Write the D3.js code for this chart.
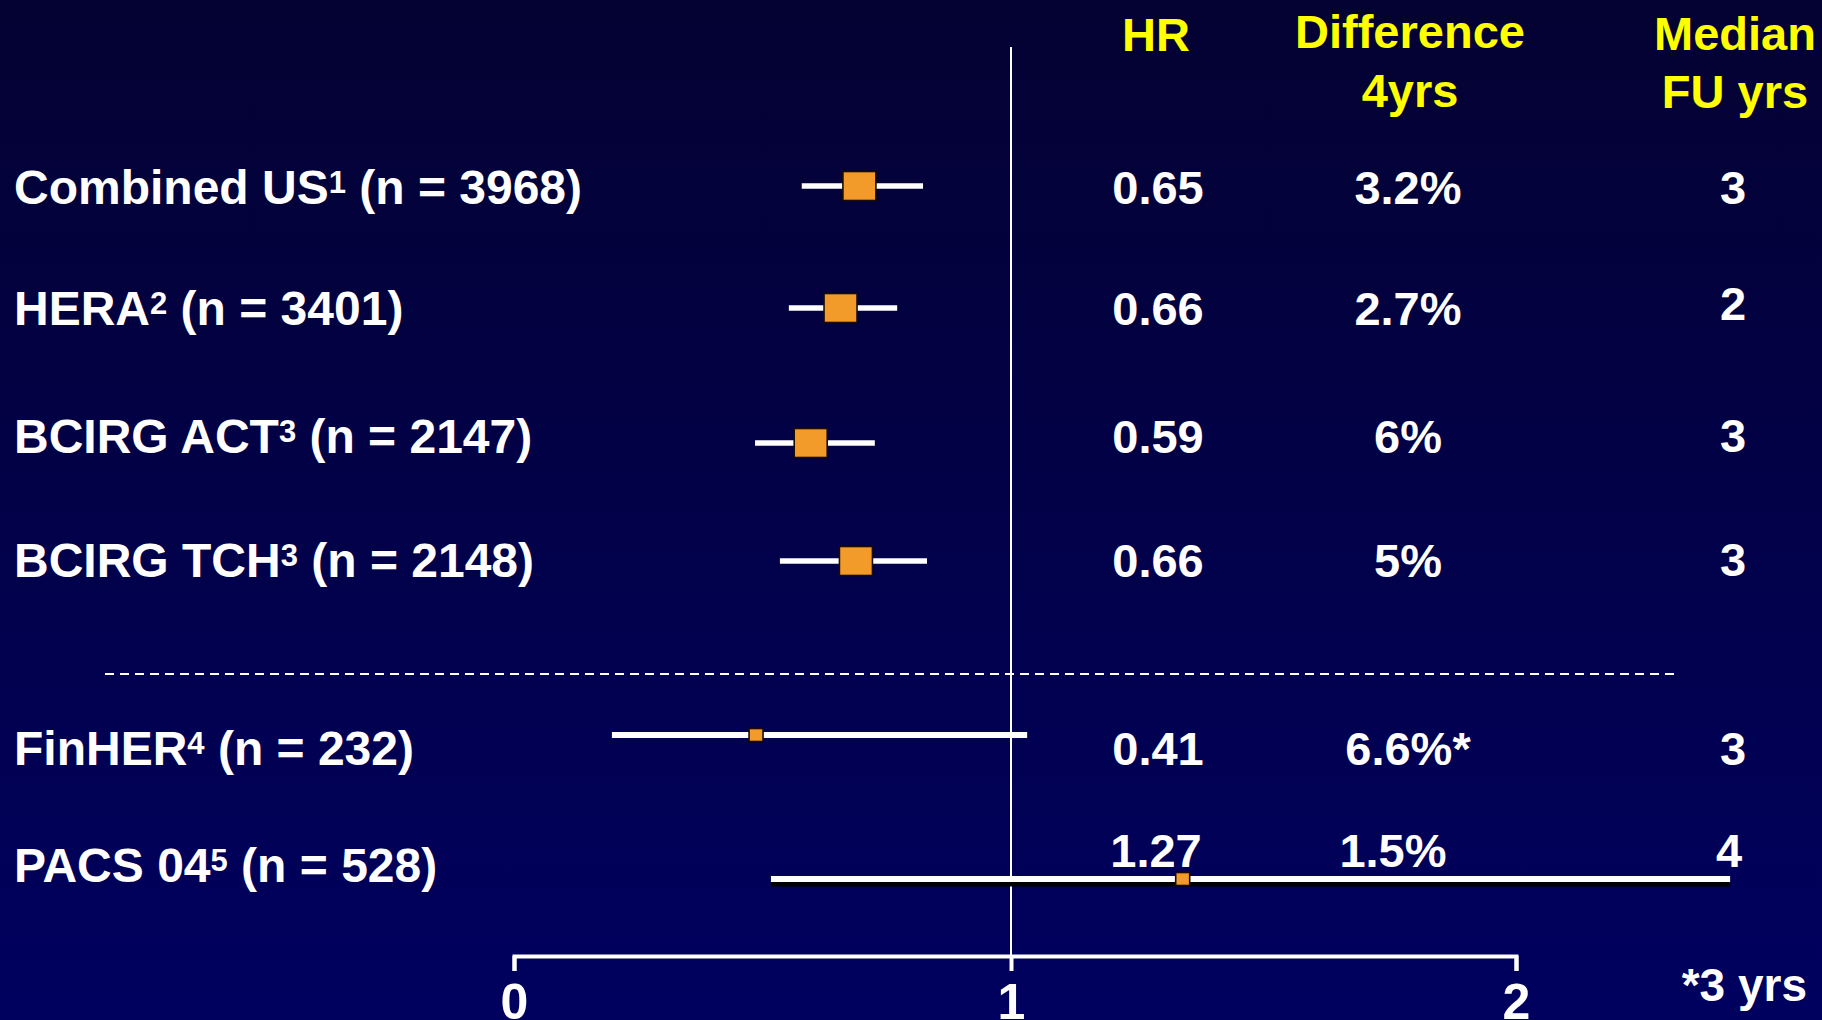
<!DOCTYPE html>
<html>
<head>
<meta charset="utf-8">
<script src="https://cdn.jsdelivr.net/npm/d3@7"></script>
<style>
  html, body { margin: 0; padding: 0; background: #000040; overflow: hidden; }
  svg { display: block; }
  text { font-family: "Liberation Sans", Arial, Helvetica, sans-serif; font-weight: bold; }
</style>
</head>
<body>
<svg id="chart" width="1822" height="1020"></svg>
<script>
// ---------- data ----------
const studies   = ["Combined US", "HERA", "BCIRG ACT", "BCIRG TCH", "FinHER", "PACS 04"];
const refs      = ["1", "2", "3", "3", "4", "5"];
const nPatients = [3968, 3401, 2147, 2148, 232, 528];
const hrEst     = [0.695, 0.657, 0.597, 0.688, 0.487, 1.340];   // plotted point estimates
const hrLow     = [0.579, 0.553, 0.485, 0.535, 0.197, 0.517];   // plotted CI lower bounds
const hrHigh    = [0.823, 0.771, 0.726, 0.831, 1.032, 2.424];   // plotted CI upper bounds
const hrLabels  = ["0.65", "0.66", "0.59", "0.66", "0.41", "1.27"];
const diffLabels= ["3.2%", "2.7%", "6%", "5%", "6.6%*", "1.5%"];
const fuLabels  = ["3", "2", "3", "3", "3", "4"];
const xTicks    = [0, 1, 2];
const headers   = { hr: ["HR"], diff: ["Difference", "4yrs"], fu: ["Median", "FU yrs"] };
const footnote  = "*3 yrs";

// ---------- layout ----------
const W = 1822, H = 1020;
const svg = d3.select("#chart");

const defs = svg.append("defs");
const grad = defs.append("linearGradient").attr("id", "bg").attr("x1", 0).attr("y1", 0).attr("x2", 0).attr("y2", 1);
grad.append("stop").attr("offset", "0%").attr("stop-color", "#040232");
grad.append("stop").attr("offset", "100%").attr("stop-color", "#00005f");
svg.append("rect").attr("width", W).attr("height", H).attr("fill", "url(#bg)");

const x = d3.scaleLinear().domain([0, 1, 2]).range([514, 1011, 1516]);

// row layout (CI line y, label baseline, value baseline, FU baseline)
const rowLine  = d3.scaleOrdinal().domain(studies).range([186, 308, 443, 561, 735, 879]);
const rowLabel = d3.scaleOrdinal().domain(studies).range([204, 325, 453, 577, 765, 882]);
const rowValue = d3.scaleOrdinal().domain(studies).range([204, 325, 453, 577, 765, 867]);
const rowFU    = d3.scaleOrdinal().domain(studies).range([204, 320, 452, 576, 765, 867]);

const boxW = d3.scaleThreshold().domain([1000]).range([14, 33]);
const boxH = d3.scaleThreshold().domain([1000]).range([13, 29]);

const rows = studies.map((s, i) => ({
  study: s, ref: refs[i], n: nPatients[i], est: hrEst[i], lo: hrLow[i], hi: hrHigh[i],
  hr: hrLabels[i], diff: diffLabels[i], fu: fuLabels[i]
}));

// reference line at HR = 1
svg.append("line")
  .attr("x1", x(1)).attr("x2", x(1)).attr("y1", 47).attr("y2", 968)
  .attr("stroke", "#ffffff").attr("stroke-width", 2);

// dashed separator
svg.append("line")
  .attr("x1", 105).attr("x2", 1678).attr("y1", 674).attr("y2", 674)
  .attr("stroke", "#ffffff").attr("stroke-width", 2).attr("stroke-dasharray", "9,6");

// axis
const axis = d3.axisBottom(x).tickValues(xTicks).tickFormat(d3.format("d"))
  .tickSize(15).tickSizeOuter(15).tickPadding(12);
const ag = svg.append("g").attr("transform", "translate(0,956)").call(axis);
ag.select(".domain").attr("stroke", "#ffffff").attr("stroke-width", 4).attr("fill", "none");
ag.selectAll(".tick line").attr("stroke", "#ffffff").attr("stroke-width", 4);
ag.selectAll(".tick text").attr("fill", "#ffffff").attr("font-size", 50)
  .attr("font-family", "'Liberation Sans', Arial, sans-serif").attr("font-weight", "bold");

// CI lines
const g = svg.append("g");
g.selectAll("line.shadow").data(rows.filter(d => d.hi > 2)).enter().append("line")
  .attr("class", "shadow")
  .attr("x1", d => x(d.lo)).attr("x2", d => x(d.hi))
  .attr("y1", d => rowLine(d.study) + 5).attr("y2", d => rowLine(d.study) + 5)
  .attr("stroke", "#000000").attr("stroke-width", 5);
g.selectAll("line.ci").data(rows).enter().append("line")
  .attr("class", "ci")
  .attr("x1", d => x(d.lo)).attr("x2", d => x(d.hi))
  .attr("y1", d => rowLine(d.study)).attr("y2", d => rowLine(d.study))
  .attr("stroke", "#ffffff").attr("stroke-width", d => d.n < 1000 ? 6 : 5.5);

// boxes
g.selectAll("rect.box").data(rows).enter().append("rect")
  .attr("class", "box")
  .attr("x", d => x(d.est) - boxW(d.n) / 2)
  .attr("y", d => rowLine(d.study) - boxH(d.n) / 2)
  .attr("width", d => boxW(d.n)).attr("height", d => boxH(d.n))
  .attr("fill", "#f29b2b").attr("stroke", "#1a0d00").attr("stroke-width", 1.6);

// study labels with superscripts
const lab = svg.selectAll("text.study").data(rows).enter().append("text")
  .attr("class", "study")
  .attr("x", 14).attr("y", d => rowLabel(d.study))
  .attr("fill", "#ffffff").attr("font-size", 48);
lab.append("tspan").text(d => d.study);
lab.append("tspan").attr("font-size", 31).attr("dy", -11).text(d => d.ref);
lab.append("tspan").attr("dy", 11).text(d => " (n = " + d.n + ")");

// value columns
const cols = [
  { key: "hr",   cx: 1158, yb: rowValue },
  { key: "diff", cx: 1408, yb: rowValue },
  { key: "fu",   cx: 1733, yb: rowFU }
];
cols.forEach(c => {
  svg.selectAll("text.v-" + c.key).data(rows).enter().append("text")
    .attr("class", "v-" + c.key)
    .attr("x", d => d.study === "PACS 04" ? c.cx - (c.key === "hr" ? 2 : c.key === "diff" ? 15 : 4) : c.cx)
    .attr("y", d => c.yb(d.study))
    .attr("text-anchor", "middle")
    .attr("fill", "#ffffff").attr("font-size", 47)
    .text(d => d[c.key]);
});

// headers
const hdr = [
  { lines: headers.hr,   cx: 1156, ys: [51] },
  { lines: headers.diff, cx: 1410, ys: [48, 107] },
  { lines: headers.fu,   cx: 1735, ys: [50, 108] }
];
hdr.forEach(h => {
  h.lines.forEach((t, i) => {
    svg.append("text").attr("x", h.cx).attr("y", h.ys[i])
      .attr("text-anchor", "middle").attr("fill", "#ffff00").attr("font-size", 47).text(t);
  });
});

// footnote
svg.append("text").attr("x", 1807).attr("y", 1001).attr("text-anchor", "end")
  .attr("fill", "#ffffff").attr("font-size", 46).text(footnote);
</script>
</body>
</html>
